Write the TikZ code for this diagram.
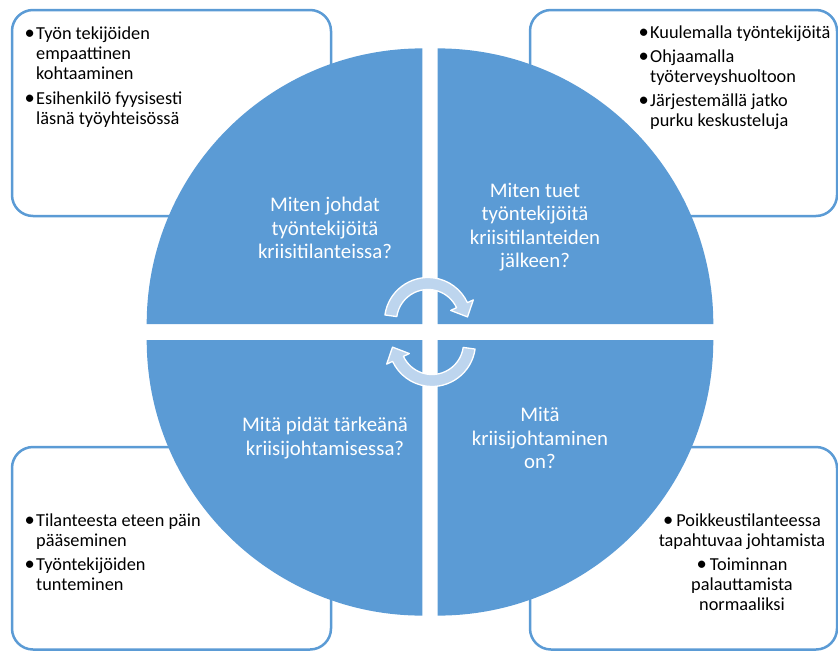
\documentclass[tikz,border=0pt]{standalone}
\usepackage{fontspec}
\setmainfont{Carlito}
\definecolor{quadblue}{RGB}{91,155,213}
\definecolor{arrowfill}{RGB}{189,213,238}
\newcommand\blt{\raisebox{-0.8pt}{\fontsize{20.5}{20}\selectfont\textbullet}}
\newcommand\bitem[1]{\makebox[11.5pt][l]{\blt}#1}
\newcommand\bcont[1]{\hspace*{11.5pt}#1}
\tikzset{
  notebox/.style={draw=quadblue, line width=2.5pt, fill=white, rounded corners=21pt},
  quadrant/.style={fill=quadblue},
  quadtext/.style={text=white, align=center, inner sep=0pt,
    font=\fontsize{20.8}{23.5}\selectfont},
  notetext/.style={text=black, inner sep=0pt,
    font=\fontsize{18.3}{20}\selectfont},
  cyclearrow/.style={fill=arrowfill, draw=white, line width=1.3pt, line join=round}
}
\begin{document}
\begin{tikzpicture}[x=1pt, y=-1pt]
  \useasboundingbox (0,0) rectangle (838,651);
  \clip (0,0) rectangle (838,651);

  % note boxes in the four corners
  \draw[notebox] (12,10) rectangle (331,216);
  \draw[notebox] (530,10) rectangle (837,216);
  \draw[notebox] (12,447) rectangle (331,649.5);
  \draw[notebox] (530,447) rectangle (837,649.5);

  % four quarter discs
  \fill[quadrant] (146.7,324) arc[start angle=180, end angle=270, radius=275.6] -- (422.3,324) -- cycle;
  \fill[quadrant] (437.7,48.4) arc[start angle=270, end angle=360, radius=275.6] -- (437.7,324) -- cycle;
  \fill[quadrant] (713.3,340) arc[start angle=0, end angle=90, radius=275.6] -- (437.7,340) -- cycle;
  \fill[quadrant] (422.3,615.6) arc[start angle=90, end angle=180, radius=275.6] -- (422.3,340) -- cycle;

  % questions on the quarter discs
  \node[quadtext] (qtl) at (325,228) {Miten johdat\\työntekijöitä\\kriisitilanteissa?};
  \node[quadtext] (qtr) at (535,227) {Miten tuet\\työntekijöitä\\kriisitilanteiden\\jälkeen?};
  \node[quadtext] (qbl) at (325,438) {Mitä pidät tärkeänä\\kriisijohtamisessa?};
  \node[quadtext] (qbr) at (540,438) {Mitä\\kriisijohtaminen\\on?};

  % circular arrows in the middle
  \begin{scope}[shift={(428,321)}]
    \draw[cyclearrow] (188:43.5) arc[start angle=188, end angle=335, radius=43.5]
      -- (335:50) -- (39.5,-4.1) -- (335:25) -- (335:31.5)
      arc[start angle=335, end angle=188, radius=31.5] -- cycle;
  \end{scope}
  \begin{scope}[shift={(432,343)}, rotate=180]
    \draw[cyclearrow] (188:43.5) arc[start angle=188, end angle=335, radius=43.5]
      -- (335:50) -- (39.5,-4.1) -- (335:25) -- (335:31.5)
      arc[start angle=335, end angle=188, radius=31.5] -- cycle;
  \end{scope}

  % answers in the note boxes (anchored at the baseline of the last line)
  \node[notetext, align=left, anchor=base west] (ntl) at (24.5,124)
    {\bitem{Työn tekijöiden}\\\bcont{empaattinen}\\\bcont{kohtaaminen}\\[5pt]
     \bitem{Esihenkilö fyysisesti}\\\bcont{läsnä työyhteisössä}};
  \node[notetext, align=left, anchor=base west] (ntr) at (638.5,126)
    {\bitem{Kuulemalla työntekijöitä}\\[4pt]\bitem{Ohjaamalla}\\\bcont{työterveyshuoltoon}\\[4pt]
     \bitem{Järjestemällä jatko}\\\bcont{purku keskusteluja}};
  \node[notetext, align=left, anchor=base west] (nbl) at (24.5,590)
    {\bitem{Tilanteesta eteen päin}\\\bcont{pääseminen}\\[4pt]
     \bitem{Työntekijöiden}\\\bcont{tunteminen}};
  \node[notetext, align=center, anchor=base] (nbr) at (742,610)
    {\blt\,Poikkeustilanteessa\\tapahtuvaa johtamista\\[4pt]
     \blt\,Toiminnan\\palauttamista\\normaaliksi};
\end{tikzpicture}
\end{document}
